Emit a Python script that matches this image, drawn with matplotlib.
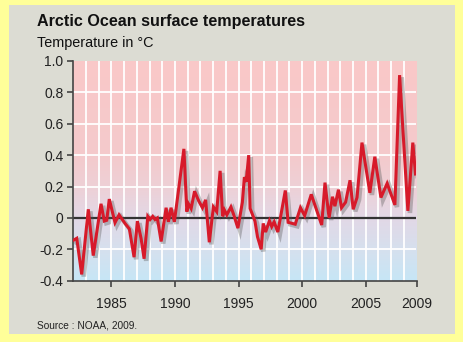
import numpy as np
import matplotlib
matplotlib.use("Agg")
import matplotlib.pyplot as plt
import matplotlib.patheffects as pe
from matplotlib.patches import Rectangle

plt.rcParams['font.family'] = ['Liberation Sans', 'DejaVu Sans']
plt.rcParams['axes.unicode_minus'] = False

# ---- data ----
years = [1982.05, 1982.27, 1982.66, 1983.18, 1983.57, 1984.18, 1984.44, 1984.63,
         1984.83, 1985.28, 1985.60, 1986.07, 1986.41, 1986.78, 1987.04, 1987.33,
         1987.57, 1987.86, 1988.04, 1988.25, 1988.43, 1988.61, 1988.91, 1989.30,
         1989.48, 1989.69, 1989.95, 1990.70, 1990.93, 1991.06, 1991.27, 1991.54,
         1991.86, 1992.16, 1992.41, 1992.70, 1993.02, 1993.28, 1993.55, 1993.75,
         1993.89, 1994.08, 1994.40, 1994.60, 1994.95, 1995.30, 1995.46, 1995.60,
         1995.80, 1995.91, 1996.29, 1996.49, 1996.78, 1996.94, 1997.13, 1997.43,
         1997.61, 1997.80, 1998.09, 1998.68, 1998.90, 1999.46, 1999.87, 2000.20,
         2000.72, 2001.54, 2001.80, 2002.12, 2002.39, 2002.58, 2002.86, 2003.10,
         2003.42, 2003.77, 2004.02, 2004.32, 2004.71, 2005.33, 2005.72, 2006.20,
         2006.69, 2007.30, 2007.67, 2008.32, 2008.71, 2008.92]
temps = [-0.14, -0.13, -0.36, 0.055, -0.24, 0.09, -0.02, -0.015,
         0.12, -0.03, 0.02, -0.035, -0.07, -0.25, -0.02, -0.13,
         -0.26, 0.01, -0.01, 0.01, -0.01, 0.0, -0.15, 0.065,
         -0.025, 0.065, -0.025, 0.44, 0.04, 0.09, 0.06, 0.17,
         0.11, 0.065, 0.115, -0.155, 0.07, 0.04, 0.30, 0.01,
         0.05, 0.02, 0.07, 0.025, -0.065, 0.10, 0.26, 0.23,
         0.40, 0.06, -0.02, -0.12, -0.20, -0.035, -0.09, -0.018,
         -0.055, -0.025, -0.09, 0.175, -0.028, -0.04, 0.065, 0.015,
         0.15, -0.045, 0.225, 0.0, 0.135, 0.075, 0.18, 0.065,
         0.10, 0.24, 0.055, 0.13, 0.48, 0.16, 0.39, 0.13,
         0.22, 0.083, 0.91, 0.045, 0.48, 0.28]
xticks = [1985, 1990, 1995, 2000, 2005, 2009]
yticks = [-0.4, -0.2, 0.0, 0.2, 0.4, 0.6, 0.8, 1.0]
ytick_labels = ["-0.4", "-0.2", "0", "0.2", "0.4", "0.6", "0.8", "1.0"]
title = "Arctic Ocean surface temperatures"
subtitle = "Temperature in \u00b0C"
source = "Source : NOAA, 2009."

W, H = 464, 342
fig = plt.figure(figsize=(W / 100, H / 100), dpi=100, facecolor='#ffff99')
# gray panel
fig.patches.append(Rectangle((9 / W, 1 - 334 / H), (455 - 9) / W, (334 - 5) / H,
                             transform=fig.transFigure, facecolor='#dcdcd3',
                             edgecolor='none', zorder=-5))

ax = fig.add_axes([73.3 / W, 1 - 280.7 / H, (416.5 - 73.3) / W, (280.7 - 61) / H])
ax.set_zorder(2)
ax.set_facecolor('none')

# background gradient
stops_v = [-0.4, -0.2, 0.0, 0.2, 0.4, 1.0]
stops_c = np.array([[198, 230, 246], [214, 224, 238], [226, 216, 230],
                    [238, 208, 214], [244, 202, 204], [250, 200, 200]]) / 255.0
vv = np.linspace(-0.4, 1.0, 300)
grad = np.stack([np.interp(vv, stops_v, stops_c[:, k]) for k in range(3)], axis=-1)
ax.imshow(grad[::-1, None, :], extent=[1982, 2009, -0.4, 1.0], aspect='auto',
          zorder=0, interpolation='bilinear')

# grid
for yr in range(1983, 2009):
    ax.axvline(yr, color='white', lw=1.3, zorder=1)
for v in yticks[1:-1]:
    ax.axhline(v, color='white', lw=1.3, zorder=1)
ax.axhline(0, color='#333333', lw=1.6, zorder=2)

ax.plot(years, temps, color='#d71a2a', lw=2.2, zorder=3, solid_joinstyle='miter',
        path_effects=[pe.SimpleLineShadow(offset=(1.5, -1.5), shadow_color='#555555',
                                          alpha=0.35, linewidth=3.3),
                      pe.Normal()])

ax.set_xlim(1982, 2009)
ax.set_ylim(-0.4, 1.0)
ax.set_xticks(xticks)
ax.set_xticklabels([str(x) for x in xticks])
ax.set_yticks(yticks)
ax.set_yticklabels(ytick_labels)
for s in ['top', 'right']:
    ax.spines[s].set_visible(False)
for s in ['left', 'bottom']:
    ax.spines[s].set_color('#444444')
    ax.spines[s].set_linewidth(1.2)
ax.tick_params(axis='both', colors='#444444', labelcolor='#222222', labelsize=10,
               length=4, width=1.2, direction='out')
ax.tick_params(axis='x', pad=8)
ax.tick_params(axis='y', pad=3)

fig.text(37 / W, 1 - 26 / H, title, fontsize=11.6, fontweight='bold',
         color='#111111', va='baseline', ha='left')
fig.text(37 / W, 1 - 47.5 / H, subtitle, fontsize=10.4, color='#111111',
         va='baseline', ha='left')
fig.text(37 / W, 1 - 328 / H, source, fontsize=7.3, color='#222222',
         va='baseline', ha='left')

fig.savefig('out.png', dpi=100, facecolor=fig.get_facecolor())
